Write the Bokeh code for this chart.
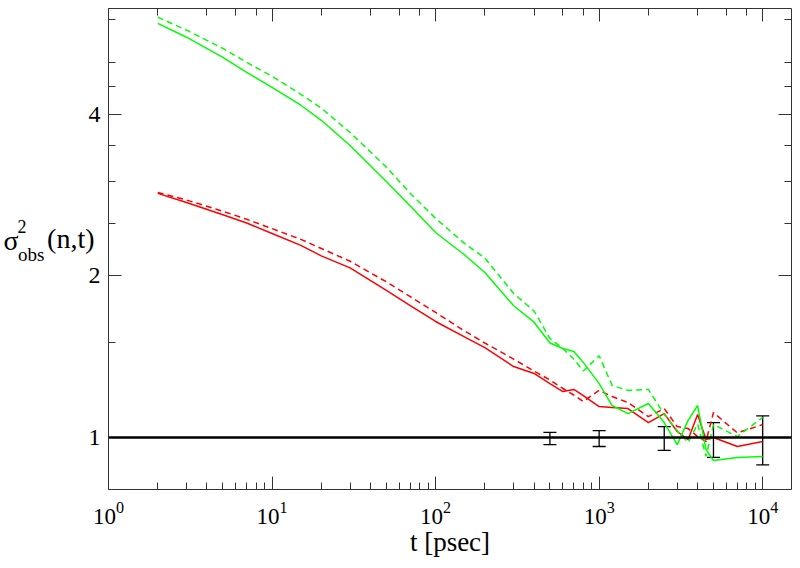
from bokeh.plotting import figure
from bokeh.models import (LogAxis, FixedTicker, LogTicker, BasicTickFormatter, Span,
                          Whisker, TeeHead, ColumnDataSource)
from bokeh.embed import file_html
from bokeh.resources import INLINE

# ---------------- data ----------------
t = [2, 3, 5, 7, 10, 15, 20, 30, 50, 70, 100, 150, 200, 300, 400, 500, 600, 700, 800,
     1000, 1200, 1500, 2000, 2500, 3000, 3500, 4000, 4500, 5000, 7000, 10000]

green_solid = [5.91, 5.57, 5.11, 4.79, 4.49, 4.16, 3.90, 3.50, 3.00, 2.70, 2.41, 2.19, 2.03,
               1.76, 1.64, 1.50, 1.465, 1.446, 1.38, 1.26, 1.147, 1.108, 1.157, 1.066, 0.970,
               1.076, 1.147, 0.95, 0.906, 0.918, 0.922]
green_dashed = [6.07, 5.74, 5.31, 5.00, 4.71, 4.36, 4.11, 3.70, 3.19, 2.85, 2.56, 2.30, 2.16,
                1.855, 1.72, 1.53, 1.465, 1.40, 1.33, 1.42, 1.25, 1.224, 1.229, 1.104, 1.03,
                0.979, 1.06, 0.922, 1.057, 1.004, 1.09]
red_solid = [2.85, 2.74, 2.60, 2.51, 2.40, 2.28, 2.18, 2.07, 1.88, 1.76, 1.645, 1.54, 1.47,
             1.356, 1.316, 1.26, 1.218, 1.229, 1.197, 1.142, 1.137, 1.132, 1.066, 1.108, 1.026,
             0.991, 1.104, 0.991, 1.0, 0.962, 0.983]
red_dashed = [2.86, 2.77, 2.64, 2.55, 2.45, 2.34, 2.25, 2.13, 1.95, 1.83, 1.71, 1.58, 1.50,
              1.40, 1.33, 1.28, 1.234, 1.20, 1.167, 1.224, 1.192, 1.162, 1.094, 1.132, 1.048,
              1.039, 1.004, 0.983, 1.113, 1.02, 1.057]

err_t = [500, 1000, 2500, 5000, 10000]
err_upper = [1.022, 1.030, 1.048, 1.066, 1.097]
err_lower = [0.970, 0.962, 0.946, 0.918, 0.889]

reference_level = 1.0

y_major_ticks = [1, 2, 4]
y_minor_ticks = [1.5, 2.5, 3, 3.5, 4.5, 5, 6]

x_range = (1, 15000)
y_range = (0.8, 6.3)

# ---------------- figure ----------------
FONT = "Liberation Serif"
AXIS_COLOR = "#333333"

p = figure(width=800, height=568, x_axis_type="log", y_axis_type="log",
           x_range=x_range, y_range=y_range, output_backend="svg",
           toolbar_location=None, min_border_left=103, min_border_right=9,
           min_border_top=8, min_border_bottom=79)
p.outline_line_color = None
p.xgrid.visible = False
p.ygrid.visible = False
p.background_fill_color = "white"
p.border_fill_color = "white"


def style_axis(ax, show_labels):
    ax.axis_line_color = AXIS_COLOR
    ax.axis_line_width = 1
    ax.major_tick_line_color = AXIS_COLOR
    ax.minor_tick_line_color = AXIS_COLOR
    ax.major_tick_in = 13
    ax.major_tick_out = 0
    ax.minor_tick_in = 7
    ax.minor_tick_out = 0
    if show_labels:
        ax.major_label_text_font = FONT
        ax.major_label_text_color = "black"
    else:
        ax.major_label_text_font_size = "0px"
        ax.major_label_standoff = 0
        ax.major_label_text_alpha = 0


# bottom axis
xa = p.xaxis[0]
style_axis(xa, True)
xa.major_label_text_font_size = "23px"
xa.major_label_standoff = 12
xa.axis_label = "t [psec]"
xa.axis_label_text_font = FONT
xa.axis_label_text_font_size = "27px"
xa.axis_label_text_font_style = "normal"
xa.axis_label_text_color = "black"
xa.axis_label_standoff = 0

# left axis (ticks, tick labels and the "(n,t)" part of the label)
ya = p.yaxis[0]
ya.ticker = FixedTicker(ticks=y_major_ticks, minor_ticks=y_minor_ticks)
ya.formatter = BasicTickFormatter()
style_axis(ya, True)
ya.major_label_text_font_size = "24px"
ya.major_label_standoff = 8
ya.axis_label = "(n,t)\n"
ya.axis_label_orientation = "horizontal"
ya.axis_label_text_font = FONT
ya.axis_label_text_font_size = "28px"
ya.axis_label_text_font_style = "normal"
ya.axis_label_text_color = "black"
ya.axis_label_text_line_height = 0.7
ya.axis_label_standoff = -9


def label_only_axis(text, size, standoff, line_height=1.2):
    ax = LogAxis(ticker=FixedTicker(ticks=[], minor_ticks=[]))
    ax.axis_line_color = None
    ax.major_tick_line_color = None
    ax.minor_tick_line_color = None
    ax.major_tick_in = 0
    ax.major_tick_out = 0
    ax.minor_tick_in = 0
    ax.minor_tick_out = 0
    ax.major_label_text_font_size = "0px"
    ax.major_label_standoff = 0
    ax.axis_label = text
    ax.axis_label_orientation = "horizontal"
    ax.axis_label_text_font = FONT
    ax.axis_label_text_font_size = size
    ax.axis_label_text_font_style = "normal"
    ax.axis_label_text_color = "black"
    ax.axis_label_text_line_height = line_height
    ax.axis_label_standoff = standoff
    return ax


# remaining pieces of sigma^2_obs, stacked outward from the left axis
p.add_layout(label_only_axis("\nobs", "19px", 0, 0.48), "left")
p.add_layout(label_only_axis("2\n", "18px", -11, 2.24), "left")
p.add_layout(label_only_axis("σ\n", "28px", -4, 0.56), "left")

# top and right mirror axes
top = LogAxis(ticker=LogTicker())
style_axis(top, False)
p.add_layout(top, "above")

right = LogAxis(ticker=FixedTicker(ticks=y_major_ticks, minor_ticks=y_minor_ticks))
style_axis(right, False)
p.add_layout(right, "right")

# reference line at 1
p.add_layout(Span(location=reference_level, dimension="width", line_color="black",
                  line_width=2.5))

# curves
p.line(t, red_solid, line_color="#ff0000", line_width=1.5)
p.line(t, red_dashed, line_color="#ff0000", line_width=1.5, line_dash="6 4")
p.line(t, green_solid, line_color="#00ff00", line_width=1.5)
p.line(t, green_dashed, line_color="#00ff00", line_width=1.5, line_dash="6 4")

# error bars
esrc = ColumnDataSource(dict(t=err_t, upper=err_upper, lower=err_lower))
p.add_layout(Whisker(base="t", upper="upper", lower="lower", source=esrc,
                     dimension="height", line_color="black", line_width=1.3,
                     upper_head=TeeHead(size=13, line_color="black", line_width=1.3),
                     lower_head=TeeHead(size=13, line_color="black", line_width=1.3)))

open("out.html", "w").write(file_html(p, INLINE))
